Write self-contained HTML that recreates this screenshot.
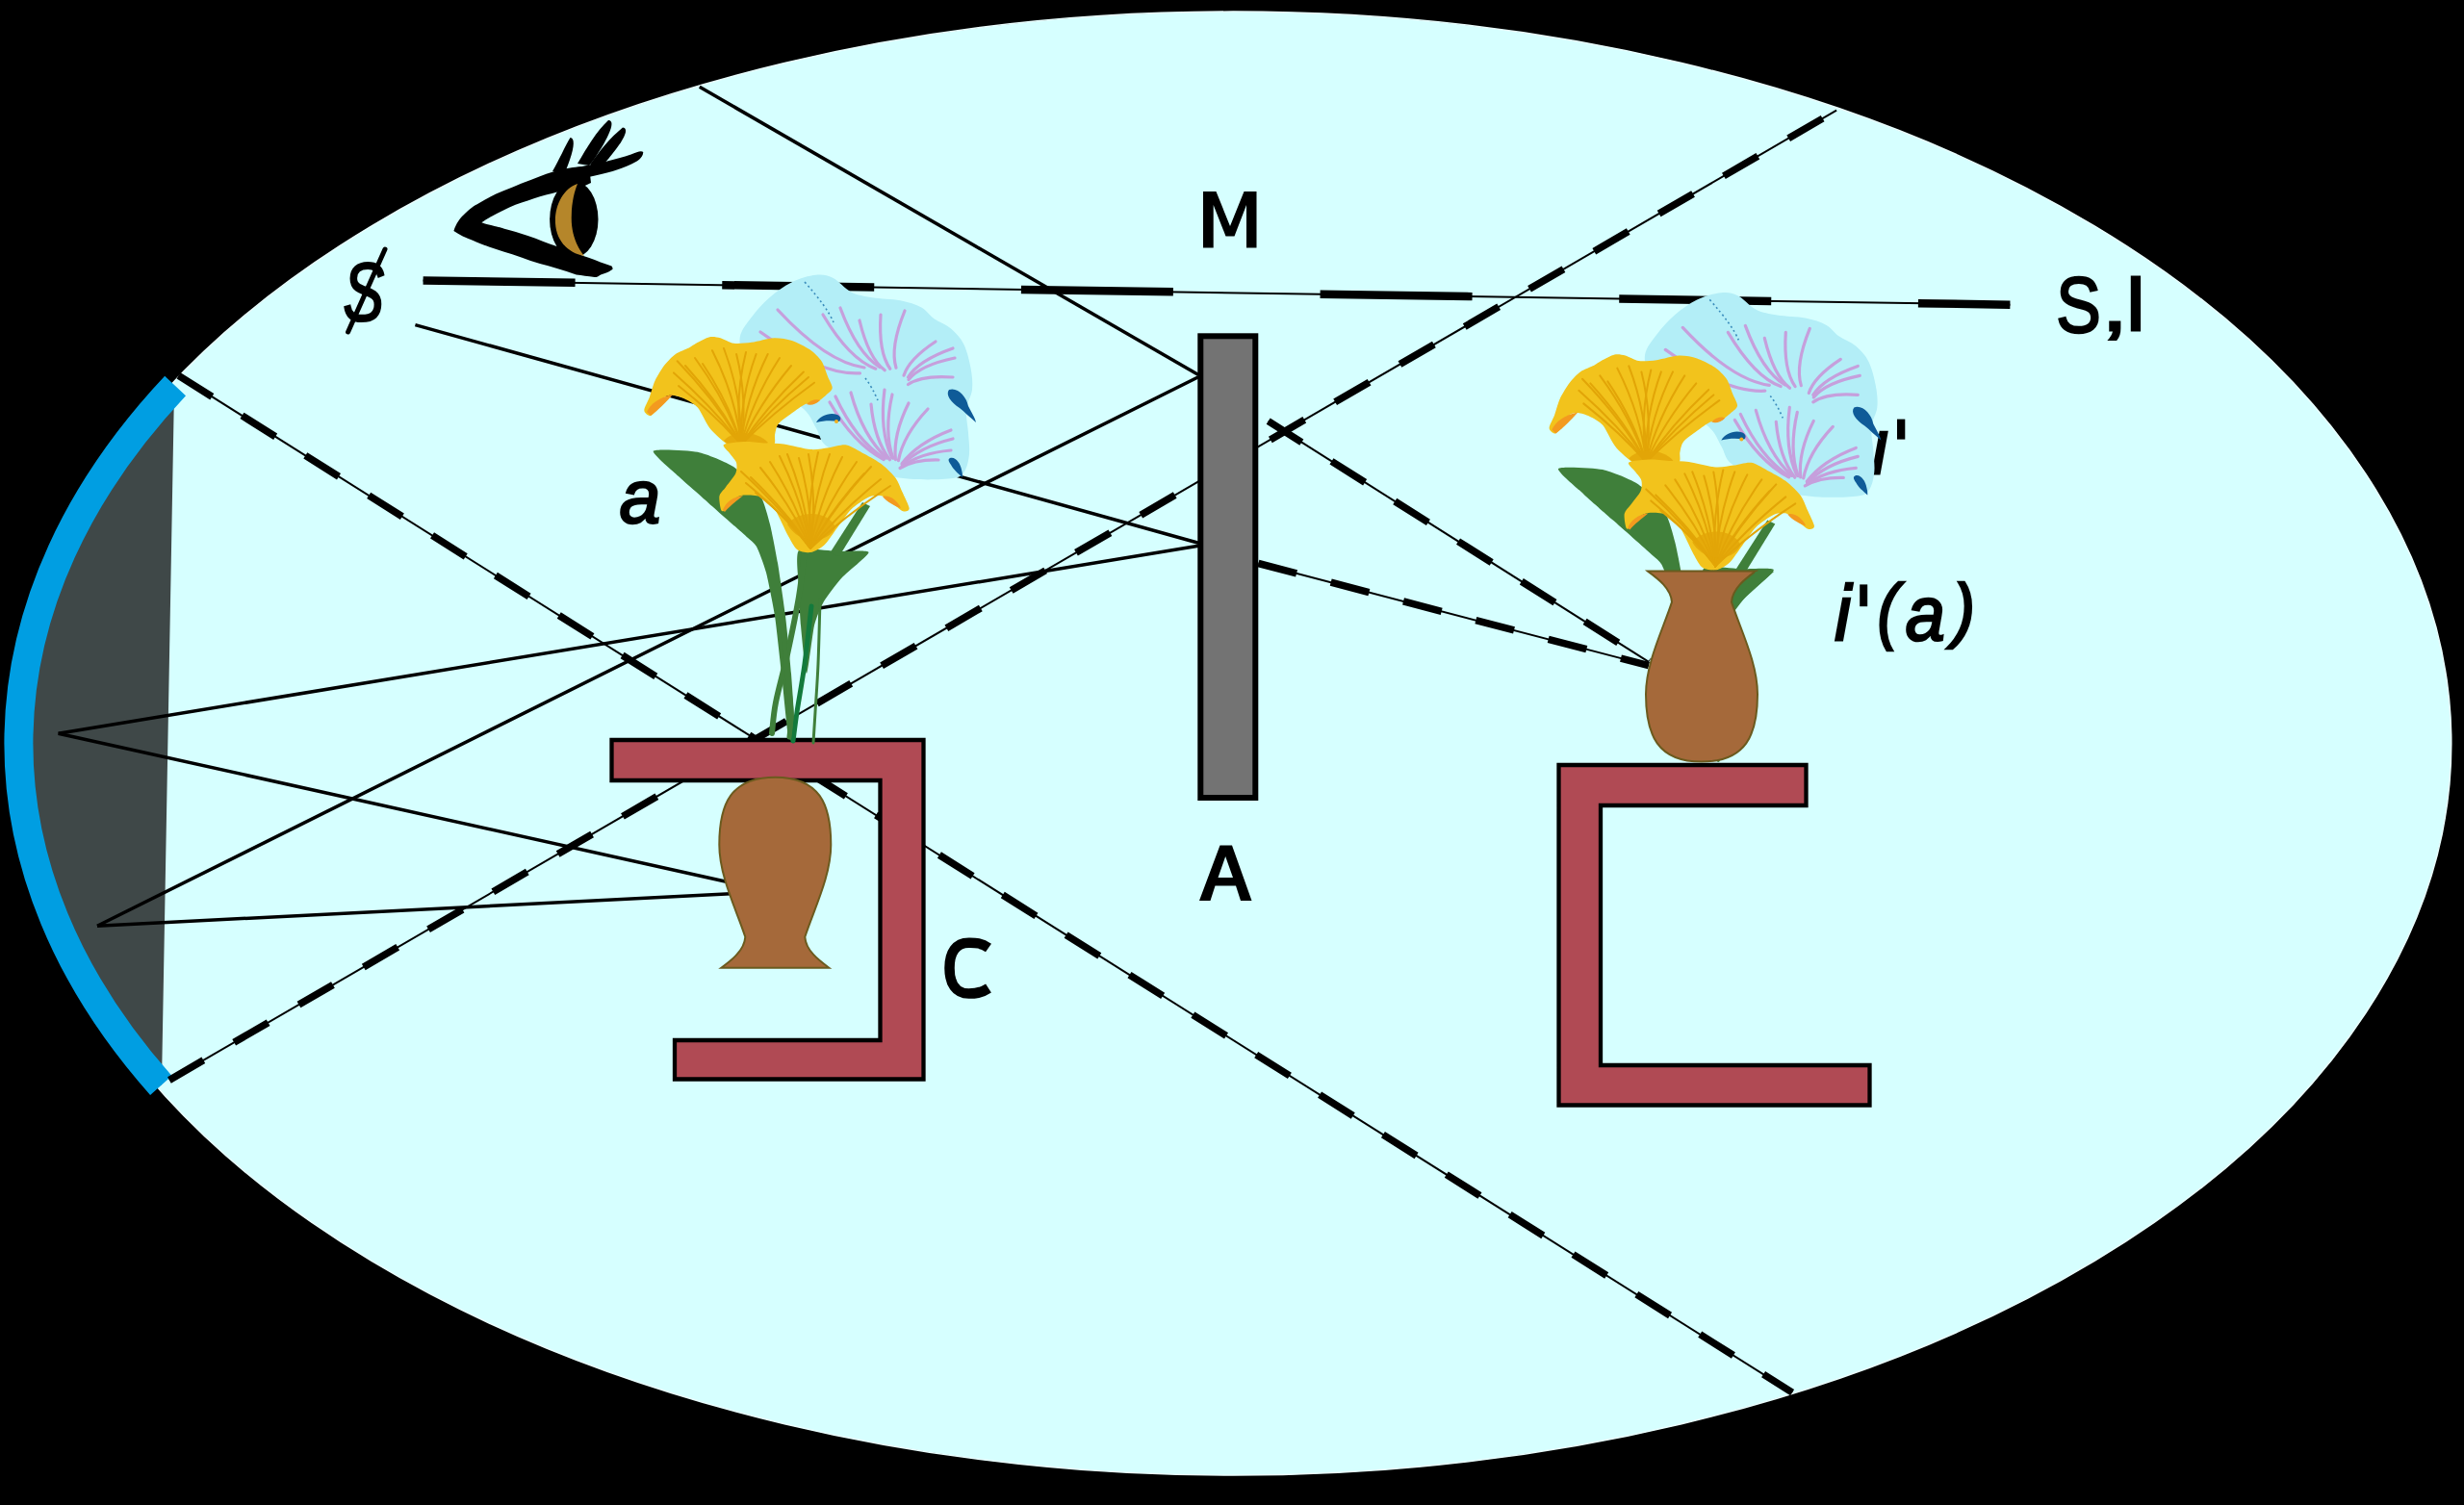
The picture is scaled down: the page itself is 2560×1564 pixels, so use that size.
<!DOCTYPE html>
<html><head><meta charset="utf-8"><style>
html,body{margin:0;padding:0;background:#000;overflow:hidden;}
svg{display:block;}
</style></head><body>
<svg width="2560" height="1564" viewBox="0 0 2560 1564">
<rect width="2560" height="1564" fill="#000"/>
<ellipse cx="1281.1" cy="772.6" rx="1265.7" ry="760.5" fill="#d6ffff" stroke="#eaffff" stroke-width="1.5"/>
<path d="M 182.1,401 A 1261.7 756.5 0 0 0 167.3,1128 L 168,1125 L 181,405 Z" fill="#3f4848"/>
<path d="M 182.1,401 A 1261.7 756.5 0 0 0 167.3,1128" fill="none" stroke="#009ee2" stroke-width="30"/>
<line x1="439.6" y1="291.4" x2="2088.4" y2="316.7" stroke="#000" stroke-width="2"/><line x1="439.6" y1="291.4" x2="2088.4" y2="316.7" stroke="#000" stroke-width="8.5" stroke-dasharray="158 152.7" stroke-dashoffset="0"/>
<line x1="185.6" y1="390.4" x2="1862.1" y2="1447.1" stroke="#000" stroke-width="2.0"/><line x1="185.6" y1="390.4" x2="1862.1" y2="1447.1" stroke="#000" stroke-width="7.5" stroke-dasharray="41 36.85" stroke-dashoffset="0"/>
<line x1="175.9" y1="1122.4" x2="1908.1" y2="114.7" stroke="#000" stroke-width="2.0"/><line x1="175.9" y1="1122.4" x2="1908.1" y2="114.7" stroke="#000" stroke-width="7.5" stroke-dasharray="41 36.85" stroke-dashoffset="0"/>
<line x1="1317.7" y1="437.7" x2="1713" y2="687.9" stroke="#000" stroke-width="2.0"/><line x1="1317.7" y1="437.7" x2="1713" y2="687.9" stroke="#000" stroke-width="7.5" stroke-dasharray="41 36.85" stroke-dashoffset="0"/>
<line x1="1307.4" y1="585.5" x2="1713" y2="691.6" stroke="#000" stroke-width="2.0"/><line x1="1307.4" y1="585.5" x2="1713" y2="691.6" stroke="#000" stroke-width="7.5" stroke-dasharray="41 36.85" stroke-dashoffset="0"/>
<line x1="726.8" y1="90.3" x2="1245.1" y2="389.5" stroke="#000" stroke-width="3.5"/>
<line x1="1245.1" y1="391.8" x2="101" y2="962.2" stroke="#000" stroke-width="3.5"/>
<line x1="431.4" y1="337.6" x2="1245.1" y2="564.2" stroke="#000" stroke-width="3.5"/>
<line x1="1245.1" y1="567.2" x2="60.6" y2="762.2" stroke="#000" stroke-width="3.5"/>
<line x1="60.6" y1="762.2" x2="756.8" y2="916.7" stroke="#000" stroke-width="3.5"/>
<line x1="101" y1="962.2" x2="759.4" y2="928.7" stroke="#000" stroke-width="3.5"/>
<rect x="1247.3" y="349.3" width="57" height="479.7" fill="#737373" stroke="#000" stroke-width="6"/>
<path d="M 635.5,769 H 959.5 V 1121.5 H 701 V 1081 H 914.5 V 811 H 635.5 Z" fill="#b04a54" stroke="#000" stroke-width="4.3"/>
<path d="M 1876.5,795 H 1619.5 V 1148.5 H 1942.5 V 1107 H 1663 V 837 H 1876.5 Z" fill="#b04a54" stroke="#000" stroke-width="4.3"/>
<path transform="translate(805.3,1005.7) scale(1,-1)" d="M -56,0 L 56,0 C 45,8 32,18 31,32 C 40,60 58,95 58,128 C 58,170 46,198 0,198 C -46,198 -58,170 -58,128 C -58,95 -40,60 -31,32 C -32,18 -45,8 -56,0 Z" fill="#a5693a" stroke="#6b5a1e" stroke-width="2"/>
<path d="M 1250,257.5 L 1250,199 L 1263.5,199 L 1278,235 L 1292.5,199 L 1305.5,199 L 1305.5,257.5 L 1295,257.5 L 1295,213 L 1282.5,245.5 L 1273.5,245.5 L 1260.7,213 L 1260.7,257.5 Z" fill="#000"/>
<path fill-rule="evenodd" d="M 1246,936 L 1267.5,878.5 L 1280,878.5 L 1300.5,936 L 1289,936 L 1284,920.5 L 1262.5,920.5 L 1257.5,936 Z M 1265.5,912 L 1281,912 L 1273.2,890 Z" fill="#000"/>
<path d="M 1027,985 C 1019,979.5 1013,979.8 1006.5,979.8 C 993,979.8 986.5,990 986.5,1006 C 986.5,1022 993,1032.6 1006.5,1032.6 C 1013,1032.6 1019,1032.3 1027,1027" fill="none" stroke="#000" stroke-width="10.5"/>
<text transform="translate(2136.31,344.5) scale(0.846,1)" x="0" y="0" font-family="Liberation Sans, sans-serif" font-size="82.44" fill="#000" stroke="#000" stroke-width="2.4">S</text>
<text transform="translate(2184.7,343.0) scale(1.2,1)" x="0" y="0" font-family="Liberation Sans, sans-serif" font-size="74.41" fill="#000" stroke="#000" stroke-width="3.0">,</text>
<text transform="translate(2208.12,342.5) scale(0.98,1)" x="0" y="0" font-family="Liberation Sans, sans-serif" font-size="80.17" fill="#000" stroke="#000" stroke-width="3.0">I</text>
<text transform="translate(643.7,542.7) scale(0.979,1)" x="0" y="0" font-family="Liberation Sans, sans-serif" font-size="77.77" font-style="italic" fill="#000" stroke="#000" stroke-width="2.6">a</text>
<text transform="translate(1906.0,664.7) scale(0.957,1)" x="0" y="0" font-family="Liberation Sans, sans-serif" font-size="80.72" font-style="italic" fill="#000" stroke="#000" stroke-width="2.4">i</text>
<text transform="translate(1950.54,660.0) scale(0.878,1)" x="0" y="0" font-family="Liberation Sans, sans-serif" font-size="75.5" font-style="italic" fill="#000" stroke="#000" stroke-width="2.6">(</text>
<text transform="translate(1979.7,664.8) scale(0.935,1)" x="0" y="0" font-family="Liberation Sans, sans-serif" font-size="78.87" font-style="italic" fill="#000" stroke="#000" stroke-width="2.6">a</text>
<text transform="translate(2029.19,659.0) scale(0.929,1)" x="0" y="0" font-family="Liberation Sans, sans-serif" font-size="73.23" font-style="italic" fill="#000" stroke="#000" stroke-width="2.6">)</text>
<clipPath id="clipi"><rect x="1900" y="447" width="100" height="60"/></clipPath>
<g clip-path="url(#clipi)"><text transform="translate(1944.5,492.0) scale(0.957,1)" x="0" y="0" font-family="Liberation Sans, sans-serif" font-size="80.72" font-style="italic" fill="#000" stroke="#000" stroke-width="2.4">i</text></g>
<rect x="1932.2" y="607.4" width="8" height="22.8" fill="#000"/>
<rect x="1971" y="435.6" width="8.3" height="21" fill="#000"/>
<text transform="translate(356.24,333.0) scale(0.764,1)" x="0" y="0" font-family="Liberation Sans, sans-serif" font-size="84.53" font-style="italic" fill="#000" stroke="#000" stroke-width="2.0">S</text>
<line x1="400" y1="259" x2="361.6" y2="345" stroke="#000" stroke-width="5" stroke-linecap="round"/>
<path d="M 471.4,240 C 474,232 478,227 481.5,223.6 C 488,217 492,214 497.9,211 C 506,206 514,202 523.1,198.3 C 536,193 548,188 561,183.2 C 570,180 578,177 586.2,175.6 C 595,174 600,173 612,172.5 L 614,190 C 608,193 604,195 598.8,195.8 C 590,197 582,198.5 573.6,200.9 C 565,203 557,205 548.4,208.4 C 540,211 531,214 523.1,218.5 C 514,223 506,227 500.4,231.2 C 515,236 520,236 523.1,237.5 C 532,240 540,242 548.4,245 C 560,249 569,253 579.9,256.4 C 590,260 600,264 611.5,267.8 C 620,271 628,274 635.4,276.6 C 637,279 637,280 635.4,280.4 C 632,283 628,284 624.1,285.4 C 622,287 620,288 617.8,288 C 610,287 605,286 598.8,285.4 C 585,281 572,277 561,274.1 C 548,270 535,265 523.1,261.5 C 512,258 500,254 491.6,250.1 C 484,247 477,244 471.4,240 Z" fill="#000"/>
<ellipse cx="596.3" cy="228" rx="25.2" ry="39.8" fill="#000"/>
<path d="M 600.1,191 C 585,196 576,214 577,232 C 578,250 590,263 607,266 C 598,255 593,240 593.8,223.6 C 594,210 597,198 600.1,191 Z" fill="#b5862a"/>
<path d="M 574,178 C 581,166 587,152 592.5,143 C 597,143 597,152 592,166 C 590,172 588,177 586,180 Z" fill="#000"/>
<path d="M 600,170 C 610,153 620,136 632,125 C 638,125 636,134 627,150 C 621,160 616,168 612,172 Z" fill="#000"/>
<path d="M 613,171 C 622,158 634,143 647,132.5 C 653,133 650,142 640,155 C 633,164 628,170 624,174 Z" fill="#000"/>
<path d="M 605,173 C 620,170 640,166 655.6,160.5 C 662,158 666,156 668.3,158 C 668,164 662,168 655,171 C 645,176 630,180 611.5,184 Z" fill="#000"/>
<g id="fl"><path d="M 768.8,350.2 C 769.9,342.9 776.8,335.0 781.9,328.2 C 787.0,321.4 792.7,315.0 799.5,309.2 C 806.3,303.4 814.8,297.1 822.8,293.2 C 830.8,289.3 840.6,286.5 847.7,285.8 C 854.8,285.1 859.1,285.9 865.2,288.8 C 871.3,291.7 877.4,300.0 884.2,303.4 C 891.0,306.8 897.7,307.7 906.2,309.2 C 914.7,310.7 926.9,310.5 935.4,312.2 C 943.9,313.9 951.4,316.3 957.3,319.5 C 963.1,322.7 965.4,327.6 970.5,331.2 C 975.6,334.8 982.9,337.0 988.0,341.4 C 993.1,345.8 997.8,350.7 1001.2,357.5 C 1004.6,364.3 1007.0,374.4 1008.5,382.3 C 1010.0,390.2 1010.8,397.9 1010.0,405.0 C 1009.2,412.1 1004.7,417.5 1004.0,425.0 C 1003.3,432.5 1005.5,442.2 1006.0,450.0 C 1006.5,457.8 1007.7,465.3 1007.0,472.0 C 1006.3,478.7 1004.8,485.8 1002.0,490.0 C 999.2,494.2 998.7,495.7 990.0,497.0 C 981.3,498.3 962.5,498.8 950.0,498.0 C 937.5,497.2 925.8,496.0 915.0,492.0 C 904.2,488.0 894.5,478.8 885.0,474.0 C 875.5,469.2 864.2,467.8 858.0,463.0 C 851.8,458.2 851.8,451.3 848.0,445.0 C 844.2,438.7 843.0,432.5 835.0,425.0 C 827.0,417.5 810.0,408.8 800.0,400.0 C 790.0,391.2 780.2,380.3 775.0,372.0 C 769.8,363.7 767.6,357.5 768.8,350.2 Z" fill="#b3eef7"/>
<path d="M 790,345 Q 852.2,390.1 893.5,387.8" fill="none" stroke="#c69fdc" stroke-width="3.2" stroke-linecap="round"/>
<path d="M 808,322 Q 858.4,376.4 898.0,382.0" fill="none" stroke="#c69fdc" stroke-width="3.2" stroke-linecap="round"/>
<path d="M 855,327 Q 882.5,373.3 909.8,383.2" fill="none" stroke="#c69fdc" stroke-width="3.2" stroke-linecap="round"/>
<path d="M 873,320 Q 890.7,367.6 914.2,381.5" fill="none" stroke="#c69fdc" stroke-width="3.2" stroke-linecap="round"/>
<path d="M 893,333 Q 902.2,371.7 919.2,384.8" fill="none" stroke="#c69fdc" stroke-width="3.2" stroke-linecap="round"/>
<path d="M 915,327 Q 912.5,366.1 924.8,383.2" fill="none" stroke="#c69fdc" stroke-width="3.2" stroke-linecap="round"/>
<path d="M 940,323 Q 924.5,361.1 931.0,382.2" fill="none" stroke="#c69fdc" stroke-width="3.2" stroke-linecap="round"/>
<path d="M 972,355 Q 944.4,373.2 939.0,390.2" fill="none" stroke="#c69fdc" stroke-width="3.2" stroke-linecap="round"/>
<path d="M 990,362 Q 954.2,374.6 943.5,392.0" fill="none" stroke="#c69fdc" stroke-width="3.2" stroke-linecap="round"/>
<path d="M 992,372 Q 956.4,379.3 944.0,394.5" fill="none" stroke="#c69fdc" stroke-width="3.2" stroke-linecap="round"/>
<path d="M 990,392 Q 957.8,389.6 943.5,399.5" fill="none" stroke="#c69fdc" stroke-width="3.2" stroke-linecap="round"/>
<path d="M 862,418 Q 886.6,460.9 918.1,477.5" fill="none" stroke="#c69fdc" stroke-width="3.2" stroke-linecap="round"/>
<path d="M 868,412 Q 888.9,457.2 919.0,476.6" fill="none" stroke="#c69fdc" stroke-width="3.2" stroke-linecap="round"/>
<path d="M 884,408 Q 896.4,453.3 921.4,476.0" fill="none" stroke="#c69fdc" stroke-width="3.2" stroke-linecap="round"/>
<path d="M 905,420 Q 908.3,456.8 924.5,477.8" fill="none" stroke="#c69fdc" stroke-width="3.2" stroke-linecap="round"/>
<path d="M 919,405 Q 913.5,447.6 926.6,475.6" fill="none" stroke="#c69fdc" stroke-width="3.2" stroke-linecap="round"/>
<path d="M 927,410 Q 918.1,449.1 927.9,476.3" fill="none" stroke="#c69fdc" stroke-width="3.2" stroke-linecap="round"/>
<path d="M 944,419 Q 927.7,451.6 930.4,477.6" fill="none" stroke="#c69fdc" stroke-width="3.2" stroke-linecap="round"/>
<path d="M 964,425 Q 938.4,452.2 933.4,478.6" fill="none" stroke="#c69fdc" stroke-width="3.2" stroke-linecap="round"/>
<path d="M 988,447 Q 953.1,460.3 937.0,481.9" fill="none" stroke="#c69fdc" stroke-width="3.2" stroke-linecap="round"/>
<path d="M 990,456 Q 955.2,464.6 937.3,483.2" fill="none" stroke="#c69fdc" stroke-width="3.2" stroke-linecap="round"/>
<path d="M 988,468 Q 955.6,470.8 937.0,485.0" fill="none" stroke="#c69fdc" stroke-width="3.2" stroke-linecap="round"/>
<path d="M 975,478 Q 950.3,477.4 935.0,486.5" fill="none" stroke="#c69fdc" stroke-width="3.2" stroke-linecap="round"/>
<path d="M 836,293 Q 860,320 866,335" fill="none" stroke="#3a8cbc" stroke-width="1.6" stroke-dasharray="2 3"/>
<path d="M 899,393 Q 906,402 912,416" fill="none" stroke="#3a8cbc" stroke-width="1.6" stroke-dasharray="2 3"/>
<path d="M 986,405 C 995,402 1004,412 1006,422 C 1009,428 1013,434 1014,439 C 1008,434 1002,428 997,424 C 988,418 982,410 986,405 Z" fill="#0f5b98"/>
<path d="M 987,476 C 993,474 998,482 999,488 C 1000,492 1000,494 1000,496 C 995,492 990,487 988,483 C 985,479 985,477 987,476 Z" fill="#0f5b98"/>
<path d="M 848,439 C 852,432 862,428 870,431 C 874,433 874,436 872,438 C 864,437 856,437 848,439 Z" fill="#0f5b98"/>
<circle cx="869" cy="438" r="2" fill="#f0b020"/>
<path d="M 678.8,468.6 C 680.8,466.1 716.5,468.1 724.8,469.7 C 733.1,471.3 755.6,480.6 762.1,485.1 C 768.6,489.6 786.2,509.0 790.0,515.0 C 793.8,521.0 798.2,538.0 800.0,545.0 C 801.8,552.0 806.4,575.5 808.0,585.0 C 809.6,594.5 814.6,628.5 816.0,640.0 C 817.4,651.5 821.0,687.5 822.0,700.0 C 823.0,712.5 826.3,758.5 826.0,765.0 C 825.7,771.5 820.4,771.5 819.0,765.0 C 817.6,758.5 813.4,712.5 812.0,700.0 C 810.6,687.5 806.6,650.5 805.0,640.0 C 803.4,629.5 797.9,602.2 796.0,595.0 C 794.1,587.8 788.1,571.8 786.0,568.0 C 783.9,564.2 780.3,562.1 775.3,557.5 C 770.3,552.9 742.8,528.6 735.8,522.4 C 728.8,516.1 710.7,500.4 705.0,495.0 C 699.3,489.6 676.8,471.1 678.8,468.6 Z" fill="#3f7f3a"/>
<path d="M 830.0,572.0 C 834.0,568.3 862.8,572.8 870.0,573.0 C 877.2,573.2 902.0,571.2 902.5,573.9 C 903.0,576.6 879.6,594.9 875.0,600.0 C 870.4,605.1 858.9,620.0 856.0,625.0 C 853.1,630.0 847.8,642.5 846.0,650.0 C 844.2,657.5 839.4,700.0 838.0,700.0 C 836.6,700.0 832.8,659.0 832.0,650.0 C 831.2,641.0 830.2,617.8 830.0,610.0 C 829.8,602.2 826.0,575.7 830.0,572.0 Z" fill="#3f7f3a"/>
<path d="M 862,575 L 896,522 L 904,526 L 872,578 Z" fill="#3f7f3a"/>
<path d="M 836.0,572.0 C 835.0,580.0 833.0,602.0 830.0,620.0 C 827.0,638.0 822.0,661.7 818.0,680.0 C 814.0,698.3 808.7,716.3 806.0,730.0 C 803.3,743.7 802.7,756.7 802.0,762.0 " fill="none" stroke="#3f7f3a" stroke-width="6" stroke-linecap="round"/>
<path d="M 843.0,630.0 C 841.8,640.0 838.5,671.7 836.0,690.0 C 833.5,708.3 830.0,726.7 828.0,740.0 C 826.0,753.3 824.7,765.0 824.0,770.0 " fill="none" stroke="#137a3c" stroke-width="5" stroke-linecap="round"/>
<path d="M 852.0,623.0 C 851.7,634.2 850.8,670.5 850.0,690.0 C 849.2,709.5 847.8,726.3 847.0,740.0 C 846.2,753.7 845.3,766.7 845.0,772.0 " fill="none" stroke="#3f7f3a" stroke-width="3" stroke-linecap="round"/>
<path d="M 812.0,640.0 C 813.0,650.0 816.3,683.3 818.0,700.0 C 819.7,716.7 821.7,729.0 822.0,740.0 C 822.3,751.0 820.3,761.7 820.0,766.0 " fill="none" stroke="#3f7f3a" stroke-width="5" stroke-linecap="round"/>
<path d="M 669.3,426.5 C 669.2,423.9 673.4,416.7 674.9,412.6 C 676.4,408.5 678.4,400.3 680.5,395.8 C 682.6,391.3 687.8,382.8 690.7,379.1 C 693.6,375.4 698.6,370.3 701.9,367.9 C 705.2,365.5 712.9,362.9 715.8,361.4 C 718.7,359.9 720.4,358.2 723.3,356.7 C 726.2,355.2 733.9,350.9 737.2,350.2 C 740.5,349.5 745.1,350.3 748.4,351.2 C 751.7,352.1 758.0,356.1 762.3,356.7 C 766.6,357.3 775.3,356.5 780.9,355.8 C 786.5,355.1 798.6,351.4 804.2,351.2 C 809.8,351.0 817.8,352.4 822.8,354.0 C 827.8,355.6 837.3,360.5 841.4,363.3 C 845.5,366.1 851.0,371.6 853.5,375.3 C 856.0,379.0 858.5,387.5 860.0,391.2 C 861.5,394.9 865.0,400.7 864.7,403.3 C 864.4,405.9 860.5,408.6 858.1,410.7 C 855.7,412.8 849.9,417.9 847.0,419.1 C 844.1,420.3 839.9,418.6 836.7,420.0 C 833.5,421.4 826.5,426.6 822.8,429.3 C 819.1,432.0 811.2,437.5 808.8,440.5 C 806.4,443.5 805.7,448.7 805.1,451.6 C 804.5,454.5 806.2,459.5 804.2,462.0 C 802.2,464.5 795.2,469.2 790.0,470.0 C 784.8,470.8 771.8,471.1 765.0,468.0 C 758.2,464.9 744.4,452.9 739.1,447.0 C 733.8,441.1 728.8,428.0 725.1,423.7 C 721.4,419.4 714.7,416.1 711.2,414.4 C 707.7,412.7 701.8,410.9 699.1,410.7 C 696.4,410.5 692.7,410.9 690.7,412.6 C 688.7,414.3 686.2,421.1 684.2,423.7 C 682.2,426.3 677.8,431.7 675.8,432.1 C 673.8,432.5 669.4,429.1 669.3,426.5 Z" fill="#f2c31c"/>
<path d="M 672,428 C 676,420 684,413 699,410 C 692,418 684,426 676,432 Z" fill="#f39a1f"/>
<path d="M 838,420 C 842,416 848,414 852,416 C 848,420 842,422 838,420 Z" fill="#f39a1f"/>
<path d="M 770,462 Q 745.5,418.6 703.7,375.3" fill="none" stroke="#e2a507" stroke-width="2.0" stroke-linecap="round"/>
<path d="M 770,462 Q 742.5,424.7 700,387.4" fill="none" stroke="#e2a507" stroke-width="2.0" stroke-linecap="round"/>
<path d="M 770,462 Q 743.6,431.5 705,401" fill="none" stroke="#e2a507" stroke-width="2.0" stroke-linecap="round"/>
<path d="M 770,462 Q 764.8,413.1 740,364.2" fill="none" stroke="#e2a507" stroke-width="2.0" stroke-linecap="round"/>
<path d="M 770,462 Q 776.9,415.0 765.1,368" fill="none" stroke="#e2a507" stroke-width="2.0" stroke-linecap="round"/>
<path d="M 770,462 Q 768.4,415.0 785.6,368" fill="none" stroke="#e2a507" stroke-width="2.0" stroke-linecap="round"/>
<path d="M 770,462 Q 774.5,415.0 797.7,368" fill="none" stroke="#e2a507" stroke-width="2.0" stroke-linecap="round"/>
<path d="M 770,462 Q 794.9,424.2 834.9,386.5" fill="none" stroke="#e2a507" stroke-width="2.0" stroke-linecap="round"/>
<path d="M 770,462 Q 801.6,429.9 846,397.7" fill="none" stroke="#e2a507" stroke-width="2.0" stroke-linecap="round"/>
<path d="M 770,462 Q 755.0,417.0 722,372" fill="none" stroke="#e2a507" stroke-width="2.0" stroke-linecap="round"/>
<path d="M 770,462 Q 749.2,421.0 712,380" fill="none" stroke="#e2a507" stroke-width="2.0" stroke-linecap="round"/>
<path d="M 770,462 Q 771.0,412.0 752,362" fill="none" stroke="#e2a507" stroke-width="2.0" stroke-linecap="round"/>
<path d="M 770,462 Q 762.9,414.0 775,366" fill="none" stroke="#e2a507" stroke-width="2.0" stroke-linecap="round"/>
<path d="M 770,462 Q 781.0,417.0 810,372" fill="none" stroke="#e2a507" stroke-width="2.0" stroke-linecap="round"/>
<path d="M 770,462 Q 787.8,421.0 822,380" fill="none" stroke="#e2a507" stroke-width="2.0" stroke-linecap="round"/>
<path d="M 770,462 Q 798.0,427.0 840,392" fill="none" stroke="#e2a507" stroke-width="2.0" stroke-linecap="round"/>
<path d="M 770,462 Q 758.4,420.0 730,378" fill="none" stroke="#e2a507" stroke-width="2.0" stroke-linecap="round"/>
<path d="M 752,458 C 760,448 785,446 798,460 C 790,468 762,468 752,458 Z" fill="#e2a507" opacity="0.8"/>
<path d="M 749.3,530.3 C 748.4,528.4 746.8,518.7 747.4,515.5 C 748.0,512.3 751.8,509.3 754.0,506.2 C 756.2,503.1 762.7,495.6 764.2,492.2 C 765.7,488.8 765.8,483.7 765.1,481.0 C 764.4,478.3 760.3,474.2 758.6,471.7 C 756.9,469.2 749.8,463.7 752.0,462.0 C 754.2,460.3 769.2,459.2 775.0,459.0 C 780.8,458.8 790.5,460.3 795.8,460.6 C 801.1,460.9 808.2,460.6 814.4,461.5 C 820.6,462.4 836.1,466.6 842.3,467.1 C 848.5,467.6 855.9,465.8 860.9,465.2 C 865.9,464.6 874.5,461.5 879.5,462.4 C 884.5,463.3 893.1,469.0 898.1,471.7 C 903.1,474.4 912.4,479.5 916.7,482.9 C 921.0,486.3 928.0,493.2 930.7,496.9 C 933.4,500.6 935.3,506.6 937.2,510.8 C 939.1,515.0 944.6,525.8 944.7,528.5 C 944.8,531.2 940.6,532.2 938.1,531.3 C 935.6,530.4 928.9,524.1 926.0,522.0 C 923.1,519.9 919.8,516.2 916.7,515.5 C 913.6,514.8 907.1,514.5 902.8,516.4 C 898.5,518.3 888.5,525.2 884.2,529.4 C 879.9,533.6 873.9,543.0 870.2,548.0 C 866.5,553.0 860.0,563.1 856.3,566.6 C 852.6,570.1 846.0,573.5 842.3,574.1 C 838.6,574.7 831.5,573.5 828.4,571.3 C 825.3,569.1 822.2,562.9 819.1,557.3 C 816.0,551.7 808.8,534.9 805.1,529.4 C 801.4,523.9 795.5,518.4 791.2,516.4 C 786.9,514.4 776.3,514.2 772.6,514.5 C 768.9,514.8 765.8,516.3 763.3,518.3 C 760.8,520.3 755.9,527.8 754.0,529.4 C 752.1,531.0 750.2,532.2 749.3,530.3 Z" fill="#f2c31c"/>
<path d="M 751,530 C 754,522 762,516 772,515 C 766,520 758,526 753,532 Z" fill="#f39a1f"/>
<path d="M 917,516 C 924,514 932,520 936,528 C 930,526 922,522 917,516 Z" fill="#f39a1f"/>
<path d="M 842,570 Q 814.0,530.0 770,490" fill="none" stroke="#e2a507" stroke-width="2.0" stroke-linecap="round"/>
<path d="M 842,570 Q 816.5,536.0 775,502" fill="none" stroke="#e2a507" stroke-width="2.0" stroke-linecap="round"/>
<path d="M 842,570 Q 821.5,541.0 785,512" fill="none" stroke="#e2a507" stroke-width="2.0" stroke-linecap="round"/>
<path d="M 842,570 Q 838.0,521.0 818,472" fill="none" stroke="#e2a507" stroke-width="2.0" stroke-linecap="round"/>
<path d="M 842,570 Q 844.0,523.0 830,476" fill="none" stroke="#e2a507" stroke-width="2.0" stroke-linecap="round"/>
<path d="M 842,570 Q 838.0,520.0 850,470" fill="none" stroke="#e2a507" stroke-width="2.0" stroke-linecap="round"/>
<path d="M 842,570 Q 850.5,522.5 875,475" fill="none" stroke="#e2a507" stroke-width="2.0" stroke-linecap="round"/>
<path d="M 842,570 Q 865.5,527.5 905,485" fill="none" stroke="#e2a507" stroke-width="2.0" stroke-linecap="round"/>
<path d="M 842,570 Q 870.5,534.0 915,498" fill="none" stroke="#e2a507" stroke-width="2.0" stroke-linecap="round"/>
<path d="M 842,570 Q 875.5,537.5 925,505" fill="none" stroke="#e2a507" stroke-width="2.0" stroke-linecap="round"/>
<path d="M 842,570 Q 829.0,525.0 800,480" fill="none" stroke="#e2a507" stroke-width="2.0" stroke-linecap="round"/>
<path d="M 842,570 Q 824.0,528.0 790,486" fill="none" stroke="#e2a507" stroke-width="2.0" stroke-linecap="round"/>
<path d="M 842,570 Q 834.0,522.0 810,474" fill="none" stroke="#e2a507" stroke-width="2.0" stroke-linecap="round"/>
<path d="M 842,570 Q 849.0,521.0 840,472" fill="none" stroke="#e2a507" stroke-width="2.0" stroke-linecap="round"/>
<path d="M 842,570 Q 844.0,521.0 862,472" fill="none" stroke="#e2a507" stroke-width="2.0" stroke-linecap="round"/>
<path d="M 842,570 Q 858.0,525.0 890,480" fill="none" stroke="#e2a507" stroke-width="2.0" stroke-linecap="round"/>
<path d="M 842,570 Q 862.0,531.0 898,492" fill="none" stroke="#e2a507" stroke-width="2.0" stroke-linecap="round"/>
<path d="M 842,570 Q 819.0,533.0 780,496" fill="none" stroke="#e2a507" stroke-width="2.0" stroke-linecap="round"/>
<path d="M 818,545 C 830,530 860,530 868,548 C 860,566 830,566 818,545 Z" fill="#e2a507" opacity="0.8"/></g>
<g transform="translate(940.3,18.4)"><path d="M 768.8,350.2 C 769.9,342.9 776.8,335.0 781.9,328.2 C 787.0,321.4 792.7,315.0 799.5,309.2 C 806.3,303.4 814.8,297.1 822.8,293.2 C 830.8,289.3 840.6,286.5 847.7,285.8 C 854.8,285.1 859.1,285.9 865.2,288.8 C 871.3,291.7 877.4,300.0 884.2,303.4 C 891.0,306.8 897.7,307.7 906.2,309.2 C 914.7,310.7 926.9,310.5 935.4,312.2 C 943.9,313.9 951.4,316.3 957.3,319.5 C 963.1,322.7 965.4,327.6 970.5,331.2 C 975.6,334.8 982.9,337.0 988.0,341.4 C 993.1,345.8 997.8,350.7 1001.2,357.5 C 1004.6,364.3 1007.0,374.4 1008.5,382.3 C 1010.0,390.2 1010.8,397.9 1010.0,405.0 C 1009.2,412.1 1004.7,417.5 1004.0,425.0 C 1003.3,432.5 1005.5,442.2 1006.0,450.0 C 1006.5,457.8 1007.7,465.3 1007.0,472.0 C 1006.3,478.7 1004.8,485.8 1002.0,490.0 C 999.2,494.2 998.7,495.7 990.0,497.0 C 981.3,498.3 962.5,498.8 950.0,498.0 C 937.5,497.2 925.8,496.0 915.0,492.0 C 904.2,488.0 894.5,478.8 885.0,474.0 C 875.5,469.2 864.2,467.8 858.0,463.0 C 851.8,458.2 851.8,451.3 848.0,445.0 C 844.2,438.7 843.0,432.5 835.0,425.0 C 827.0,417.5 810.0,408.8 800.0,400.0 C 790.0,391.2 780.2,380.3 775.0,372.0 C 769.8,363.7 767.6,357.5 768.8,350.2 Z" fill="#b3eef7"/>
<path d="M 790,345 Q 852.2,390.1 893.5,387.8" fill="none" stroke="#c69fdc" stroke-width="3.2" stroke-linecap="round"/>
<path d="M 808,322 Q 858.4,376.4 898.0,382.0" fill="none" stroke="#c69fdc" stroke-width="3.2" stroke-linecap="round"/>
<path d="M 855,327 Q 882.5,373.3 909.8,383.2" fill="none" stroke="#c69fdc" stroke-width="3.2" stroke-linecap="round"/>
<path d="M 873,320 Q 890.7,367.6 914.2,381.5" fill="none" stroke="#c69fdc" stroke-width="3.2" stroke-linecap="round"/>
<path d="M 893,333 Q 902.2,371.7 919.2,384.8" fill="none" stroke="#c69fdc" stroke-width="3.2" stroke-linecap="round"/>
<path d="M 915,327 Q 912.5,366.1 924.8,383.2" fill="none" stroke="#c69fdc" stroke-width="3.2" stroke-linecap="round"/>
<path d="M 940,323 Q 924.5,361.1 931.0,382.2" fill="none" stroke="#c69fdc" stroke-width="3.2" stroke-linecap="round"/>
<path d="M 972,355 Q 944.4,373.2 939.0,390.2" fill="none" stroke="#c69fdc" stroke-width="3.2" stroke-linecap="round"/>
<path d="M 990,362 Q 954.2,374.6 943.5,392.0" fill="none" stroke="#c69fdc" stroke-width="3.2" stroke-linecap="round"/>
<path d="M 992,372 Q 956.4,379.3 944.0,394.5" fill="none" stroke="#c69fdc" stroke-width="3.2" stroke-linecap="round"/>
<path d="M 990,392 Q 957.8,389.6 943.5,399.5" fill="none" stroke="#c69fdc" stroke-width="3.2" stroke-linecap="round"/>
<path d="M 862,418 Q 886.6,460.9 918.1,477.5" fill="none" stroke="#c69fdc" stroke-width="3.2" stroke-linecap="round"/>
<path d="M 868,412 Q 888.9,457.2 919.0,476.6" fill="none" stroke="#c69fdc" stroke-width="3.2" stroke-linecap="round"/>
<path d="M 884,408 Q 896.4,453.3 921.4,476.0" fill="none" stroke="#c69fdc" stroke-width="3.2" stroke-linecap="round"/>
<path d="M 905,420 Q 908.3,456.8 924.5,477.8" fill="none" stroke="#c69fdc" stroke-width="3.2" stroke-linecap="round"/>
<path d="M 919,405 Q 913.5,447.6 926.6,475.6" fill="none" stroke="#c69fdc" stroke-width="3.2" stroke-linecap="round"/>
<path d="M 927,410 Q 918.1,449.1 927.9,476.3" fill="none" stroke="#c69fdc" stroke-width="3.2" stroke-linecap="round"/>
<path d="M 944,419 Q 927.7,451.6 930.4,477.6" fill="none" stroke="#c69fdc" stroke-width="3.2" stroke-linecap="round"/>
<path d="M 964,425 Q 938.4,452.2 933.4,478.6" fill="none" stroke="#c69fdc" stroke-width="3.2" stroke-linecap="round"/>
<path d="M 988,447 Q 953.1,460.3 937.0,481.9" fill="none" stroke="#c69fdc" stroke-width="3.2" stroke-linecap="round"/>
<path d="M 990,456 Q 955.2,464.6 937.3,483.2" fill="none" stroke="#c69fdc" stroke-width="3.2" stroke-linecap="round"/>
<path d="M 988,468 Q 955.6,470.8 937.0,485.0" fill="none" stroke="#c69fdc" stroke-width="3.2" stroke-linecap="round"/>
<path d="M 975,478 Q 950.3,477.4 935.0,486.5" fill="none" stroke="#c69fdc" stroke-width="3.2" stroke-linecap="round"/>
<path d="M 836,293 Q 860,320 866,335" fill="none" stroke="#3a8cbc" stroke-width="1.6" stroke-dasharray="2 3"/>
<path d="M 899,393 Q 906,402 912,416" fill="none" stroke="#3a8cbc" stroke-width="1.6" stroke-dasharray="2 3"/>
<path d="M 986,405 C 995,402 1004,412 1006,422 C 1009,428 1013,434 1014,439 C 1008,434 1002,428 997,424 C 988,418 982,410 986,405 Z" fill="#0f5b98"/>
<path d="M 987,476 C 993,474 998,482 999,488 C 1000,492 1000,494 1000,496 C 995,492 990,487 988,483 C 985,479 985,477 987,476 Z" fill="#0f5b98"/>
<path d="M 848,439 C 852,432 862,428 870,431 C 874,433 874,436 872,438 C 864,437 856,437 848,439 Z" fill="#0f5b98"/>
<circle cx="869" cy="438" r="2" fill="#f0b020"/>
<path d="M 678.8,468.6 C 680.8,466.1 716.5,468.1 724.8,469.7 C 733.1,471.3 755.6,480.6 762.1,485.1 C 768.6,489.6 786.2,509.0 790.0,515.0 C 793.8,521.0 798.2,538.0 800.0,545.0 C 801.8,552.0 806.4,575.5 808.0,585.0 C 809.6,594.5 814.6,628.5 816.0,640.0 C 817.4,651.5 821.0,687.5 822.0,700.0 C 823.0,712.5 826.3,758.5 826.0,765.0 C 825.7,771.5 820.4,771.5 819.0,765.0 C 817.6,758.5 813.4,712.5 812.0,700.0 C 810.6,687.5 806.6,650.5 805.0,640.0 C 803.4,629.5 797.9,602.2 796.0,595.0 C 794.1,587.8 788.1,571.8 786.0,568.0 C 783.9,564.2 780.3,562.1 775.3,557.5 C 770.3,552.9 742.8,528.6 735.8,522.4 C 728.8,516.1 710.7,500.4 705.0,495.0 C 699.3,489.6 676.8,471.1 678.8,468.6 Z" fill="#3f7f3a"/>
<path d="M 830.0,572.0 C 834.0,568.3 862.8,572.8 870.0,573.0 C 877.2,573.2 902.0,571.2 902.5,573.9 C 903.0,576.6 879.6,594.9 875.0,600.0 C 870.4,605.1 858.9,620.0 856.0,625.0 C 853.1,630.0 847.8,642.5 846.0,650.0 C 844.2,657.5 839.4,700.0 838.0,700.0 C 836.6,700.0 832.8,659.0 832.0,650.0 C 831.2,641.0 830.2,617.8 830.0,610.0 C 829.8,602.2 826.0,575.7 830.0,572.0 Z" fill="#3f7f3a"/>
<path d="M 862,575 L 896,522 L 904,526 L 872,578 Z" fill="#3f7f3a"/>
<path d="M 836.0,572.0 C 835.0,580.0 833.0,602.0 830.0,620.0 C 827.0,638.0 822.0,661.7 818.0,680.0 C 814.0,698.3 808.7,716.3 806.0,730.0 C 803.3,743.7 802.7,756.7 802.0,762.0 " fill="none" stroke="#3f7f3a" stroke-width="6" stroke-linecap="round"/>
<path d="M 843.0,630.0 C 841.8,640.0 838.5,671.7 836.0,690.0 C 833.5,708.3 830.0,726.7 828.0,740.0 C 826.0,753.3 824.7,765.0 824.0,770.0 " fill="none" stroke="#137a3c" stroke-width="5" stroke-linecap="round"/>
<path d="M 852.0,623.0 C 851.7,634.2 850.8,670.5 850.0,690.0 C 849.2,709.5 847.8,726.3 847.0,740.0 C 846.2,753.7 845.3,766.7 845.0,772.0 " fill="none" stroke="#3f7f3a" stroke-width="3" stroke-linecap="round"/>
<path d="M 812.0,640.0 C 813.0,650.0 816.3,683.3 818.0,700.0 C 819.7,716.7 821.7,729.0 822.0,740.0 C 822.3,751.0 820.3,761.7 820.0,766.0 " fill="none" stroke="#3f7f3a" stroke-width="5" stroke-linecap="round"/>
<path d="M 669.3,426.5 C 669.2,423.9 673.4,416.7 674.9,412.6 C 676.4,408.5 678.4,400.3 680.5,395.8 C 682.6,391.3 687.8,382.8 690.7,379.1 C 693.6,375.4 698.6,370.3 701.9,367.9 C 705.2,365.5 712.9,362.9 715.8,361.4 C 718.7,359.9 720.4,358.2 723.3,356.7 C 726.2,355.2 733.9,350.9 737.2,350.2 C 740.5,349.5 745.1,350.3 748.4,351.2 C 751.7,352.1 758.0,356.1 762.3,356.7 C 766.6,357.3 775.3,356.5 780.9,355.8 C 786.5,355.1 798.6,351.4 804.2,351.2 C 809.8,351.0 817.8,352.4 822.8,354.0 C 827.8,355.6 837.3,360.5 841.4,363.3 C 845.5,366.1 851.0,371.6 853.5,375.3 C 856.0,379.0 858.5,387.5 860.0,391.2 C 861.5,394.9 865.0,400.7 864.7,403.3 C 864.4,405.9 860.5,408.6 858.1,410.7 C 855.7,412.8 849.9,417.9 847.0,419.1 C 844.1,420.3 839.9,418.6 836.7,420.0 C 833.5,421.4 826.5,426.6 822.8,429.3 C 819.1,432.0 811.2,437.5 808.8,440.5 C 806.4,443.5 805.7,448.7 805.1,451.6 C 804.5,454.5 806.2,459.5 804.2,462.0 C 802.2,464.5 795.2,469.2 790.0,470.0 C 784.8,470.8 771.8,471.1 765.0,468.0 C 758.2,464.9 744.4,452.9 739.1,447.0 C 733.8,441.1 728.8,428.0 725.1,423.7 C 721.4,419.4 714.7,416.1 711.2,414.4 C 707.7,412.7 701.8,410.9 699.1,410.7 C 696.4,410.5 692.7,410.9 690.7,412.6 C 688.7,414.3 686.2,421.1 684.2,423.7 C 682.2,426.3 677.8,431.7 675.8,432.1 C 673.8,432.5 669.4,429.1 669.3,426.5 Z" fill="#f2c31c"/>
<path d="M 672,428 C 676,420 684,413 699,410 C 692,418 684,426 676,432 Z" fill="#f39a1f"/>
<path d="M 838,420 C 842,416 848,414 852,416 C 848,420 842,422 838,420 Z" fill="#f39a1f"/>
<path d="M 770,462 Q 745.5,418.6 703.7,375.3" fill="none" stroke="#e2a507" stroke-width="2.0" stroke-linecap="round"/>
<path d="M 770,462 Q 742.5,424.7 700,387.4" fill="none" stroke="#e2a507" stroke-width="2.0" stroke-linecap="round"/>
<path d="M 770,462 Q 743.6,431.5 705,401" fill="none" stroke="#e2a507" stroke-width="2.0" stroke-linecap="round"/>
<path d="M 770,462 Q 764.8,413.1 740,364.2" fill="none" stroke="#e2a507" stroke-width="2.0" stroke-linecap="round"/>
<path d="M 770,462 Q 776.9,415.0 765.1,368" fill="none" stroke="#e2a507" stroke-width="2.0" stroke-linecap="round"/>
<path d="M 770,462 Q 768.4,415.0 785.6,368" fill="none" stroke="#e2a507" stroke-width="2.0" stroke-linecap="round"/>
<path d="M 770,462 Q 774.5,415.0 797.7,368" fill="none" stroke="#e2a507" stroke-width="2.0" stroke-linecap="round"/>
<path d="M 770,462 Q 794.9,424.2 834.9,386.5" fill="none" stroke="#e2a507" stroke-width="2.0" stroke-linecap="round"/>
<path d="M 770,462 Q 801.6,429.9 846,397.7" fill="none" stroke="#e2a507" stroke-width="2.0" stroke-linecap="round"/>
<path d="M 770,462 Q 755.0,417.0 722,372" fill="none" stroke="#e2a507" stroke-width="2.0" stroke-linecap="round"/>
<path d="M 770,462 Q 749.2,421.0 712,380" fill="none" stroke="#e2a507" stroke-width="2.0" stroke-linecap="round"/>
<path d="M 770,462 Q 771.0,412.0 752,362" fill="none" stroke="#e2a507" stroke-width="2.0" stroke-linecap="round"/>
<path d="M 770,462 Q 762.9,414.0 775,366" fill="none" stroke="#e2a507" stroke-width="2.0" stroke-linecap="round"/>
<path d="M 770,462 Q 781.0,417.0 810,372" fill="none" stroke="#e2a507" stroke-width="2.0" stroke-linecap="round"/>
<path d="M 770,462 Q 787.8,421.0 822,380" fill="none" stroke="#e2a507" stroke-width="2.0" stroke-linecap="round"/>
<path d="M 770,462 Q 798.0,427.0 840,392" fill="none" stroke="#e2a507" stroke-width="2.0" stroke-linecap="round"/>
<path d="M 770,462 Q 758.4,420.0 730,378" fill="none" stroke="#e2a507" stroke-width="2.0" stroke-linecap="round"/>
<path d="M 752,458 C 760,448 785,446 798,460 C 790,468 762,468 752,458 Z" fill="#e2a507" opacity="0.8"/>
<path d="M 749.3,530.3 C 748.4,528.4 746.8,518.7 747.4,515.5 C 748.0,512.3 751.8,509.3 754.0,506.2 C 756.2,503.1 762.7,495.6 764.2,492.2 C 765.7,488.8 765.8,483.7 765.1,481.0 C 764.4,478.3 760.3,474.2 758.6,471.7 C 756.9,469.2 749.8,463.7 752.0,462.0 C 754.2,460.3 769.2,459.2 775.0,459.0 C 780.8,458.8 790.5,460.3 795.8,460.6 C 801.1,460.9 808.2,460.6 814.4,461.5 C 820.6,462.4 836.1,466.6 842.3,467.1 C 848.5,467.6 855.9,465.8 860.9,465.2 C 865.9,464.6 874.5,461.5 879.5,462.4 C 884.5,463.3 893.1,469.0 898.1,471.7 C 903.1,474.4 912.4,479.5 916.7,482.9 C 921.0,486.3 928.0,493.2 930.7,496.9 C 933.4,500.6 935.3,506.6 937.2,510.8 C 939.1,515.0 944.6,525.8 944.7,528.5 C 944.8,531.2 940.6,532.2 938.1,531.3 C 935.6,530.4 928.9,524.1 926.0,522.0 C 923.1,519.9 919.8,516.2 916.7,515.5 C 913.6,514.8 907.1,514.5 902.8,516.4 C 898.5,518.3 888.5,525.2 884.2,529.4 C 879.9,533.6 873.9,543.0 870.2,548.0 C 866.5,553.0 860.0,563.1 856.3,566.6 C 852.6,570.1 846.0,573.5 842.3,574.1 C 838.6,574.7 831.5,573.5 828.4,571.3 C 825.3,569.1 822.2,562.9 819.1,557.3 C 816.0,551.7 808.8,534.9 805.1,529.4 C 801.4,523.9 795.5,518.4 791.2,516.4 C 786.9,514.4 776.3,514.2 772.6,514.5 C 768.9,514.8 765.8,516.3 763.3,518.3 C 760.8,520.3 755.9,527.8 754.0,529.4 C 752.1,531.0 750.2,532.2 749.3,530.3 Z" fill="#f2c31c"/>
<path d="M 751,530 C 754,522 762,516 772,515 C 766,520 758,526 753,532 Z" fill="#f39a1f"/>
<path d="M 917,516 C 924,514 932,520 936,528 C 930,526 922,522 917,516 Z" fill="#f39a1f"/>
<path d="M 842,570 Q 814.0,530.0 770,490" fill="none" stroke="#e2a507" stroke-width="2.0" stroke-linecap="round"/>
<path d="M 842,570 Q 816.5,536.0 775,502" fill="none" stroke="#e2a507" stroke-width="2.0" stroke-linecap="round"/>
<path d="M 842,570 Q 821.5,541.0 785,512" fill="none" stroke="#e2a507" stroke-width="2.0" stroke-linecap="round"/>
<path d="M 842,570 Q 838.0,521.0 818,472" fill="none" stroke="#e2a507" stroke-width="2.0" stroke-linecap="round"/>
<path d="M 842,570 Q 844.0,523.0 830,476" fill="none" stroke="#e2a507" stroke-width="2.0" stroke-linecap="round"/>
<path d="M 842,570 Q 838.0,520.0 850,470" fill="none" stroke="#e2a507" stroke-width="2.0" stroke-linecap="round"/>
<path d="M 842,570 Q 850.5,522.5 875,475" fill="none" stroke="#e2a507" stroke-width="2.0" stroke-linecap="round"/>
<path d="M 842,570 Q 865.5,527.5 905,485" fill="none" stroke="#e2a507" stroke-width="2.0" stroke-linecap="round"/>
<path d="M 842,570 Q 870.5,534.0 915,498" fill="none" stroke="#e2a507" stroke-width="2.0" stroke-linecap="round"/>
<path d="M 842,570 Q 875.5,537.5 925,505" fill="none" stroke="#e2a507" stroke-width="2.0" stroke-linecap="round"/>
<path d="M 842,570 Q 829.0,525.0 800,480" fill="none" stroke="#e2a507" stroke-width="2.0" stroke-linecap="round"/>
<path d="M 842,570 Q 824.0,528.0 790,486" fill="none" stroke="#e2a507" stroke-width="2.0" stroke-linecap="round"/>
<path d="M 842,570 Q 834.0,522.0 810,474" fill="none" stroke="#e2a507" stroke-width="2.0" stroke-linecap="round"/>
<path d="M 842,570 Q 849.0,521.0 840,472" fill="none" stroke="#e2a507" stroke-width="2.0" stroke-linecap="round"/>
<path d="M 842,570 Q 844.0,521.0 862,472" fill="none" stroke="#e2a507" stroke-width="2.0" stroke-linecap="round"/>
<path d="M 842,570 Q 858.0,525.0 890,480" fill="none" stroke="#e2a507" stroke-width="2.0" stroke-linecap="round"/>
<path d="M 842,570 Q 862.0,531.0 898,492" fill="none" stroke="#e2a507" stroke-width="2.0" stroke-linecap="round"/>
<path d="M 842,570 Q 819.0,533.0 780,496" fill="none" stroke="#e2a507" stroke-width="2.0" stroke-linecap="round"/>
<path d="M 818,545 C 830,530 860,530 868,548 C 860,566 830,566 818,545 Z" fill="#e2a507" opacity="0.8"/></g>
<path transform="translate(1768,593.6)" d="M -56,0 L 56,0 C 45,8 32,18 31,32 C 40,60 58,95 58,128 C 58,170 46,198 0,198 C -46,198 -58,170 -58,128 C -58,95 -40,60 -31,32 C -32,18 -45,8 -56,0 Z" fill="#a5693a" stroke="#6b5a1e" stroke-width="2"/>
<path d="M 1824,594 L 1843,594 L 1801,632 Z" fill="#3f7f3a"/>
</svg>
</body></html>
